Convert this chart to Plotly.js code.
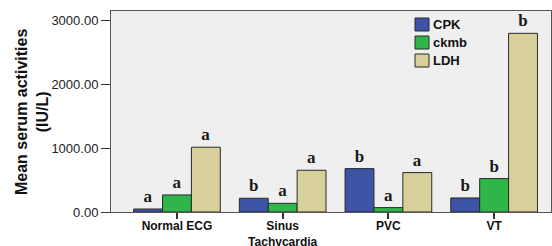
<!DOCTYPE html>
<html><head><meta charset="utf-8">
<script src="https://cdn.plot.ly/plotly-3.0.1.min.js"></script>
<style>html,body{margin:0;padding:0;background:#fff}#chart{width:552px;height:246px}</style>
</head><body><div id="chart"></div>
<script>
const categories = ["Normal ECG", "Sinus<br>Tachycardia", "PVC", "VT"];
const seriesNames = ["CPK", "ckmb", "LDH"];
const cpk = [47, 215, 680, 220];
const ckmb = [267, 136, 69, 524];
const ldh = [1015, 654, 618, 2800];
const cpkLetters = ["a", "b", "b", "b"];
const ckmbLetters = ["a", "a", "a", "b"];
const ldhLetters = ["a", "a", "a", "b"];
const yTickVals = [0, 1000, 2000, 3000];
const yTickText = ["0.00", "1000.00", "2000.00", "3000.00"];
const yTitle = "Mean serum activities<br>(IU/L)";
const colors = ["#3c53a6", "#30b54a", "#d8d09a"];

const xIdx = categories.map((c, i) => i);
const letterFont = {family: "Liberation Serif, Times New Roman, serif", size: 17, color: "#1a1a1a", weight: "bold"};
function mk(name, vals, letters, color) {
  return {
    type: "bar", name: name, x: xIdx, y: vals, text: letters,
    textposition: "outside", cliponaxis: false, constraintext: "none",
    outsidetextfont: letterFont, textfont: letterFont,
    marker: {color: color, line: {color: "#2a2a2a", width: 1}},
    hoverinfo: "skip", showlegend: false
  };
}
const data = [
  mk(seriesNames[0], cpk, cpkLetters, colors[0]),
  mk(seriesNames[1], ckmb, ckmbLetters, colors[1]),
  mk(seriesNames[2], ldh, ldhLetters, colors[2])
];

// custom legend + y title (paper coords)
const shapes = [], annotations = [];
const plotL = 111, plotT = 11, plotW = 440, plotH = 201;
function px2x(p) { return (p - plotL) / plotW; }
function py2y(p) { return (plotT + plotH - p) / plotH; }
seriesNames.forEach((n, i) => {
  const top = 18 + i * 18;
  shapes.push({type: "rect", xref: "paper", yref: "paper",
    x0: px2x(415), x1: px2x(429), y0: py2y(top + 13), y1: py2y(top),
    fillcolor: colors[i], line: {color: "#2a2a2a", width: 1}});
  annotations.push({xref: "paper", yref: "paper", x: px2x(431), y: py2y(top + 6.5),
    xanchor: "left", yanchor: "middle", showarrow: false, text: n,
    font: {family: "Liberation Sans, Arial, sans-serif", size: 13, color: "#111", weight: "bold"}});
});
annotations.push({xref: "paper", yref: "paper", x: px2x(32), y: py2y(112),
  xanchor: "center", yanchor: "middle", showarrow: false, textangle: -90,
  text: yTitle, font: {family: "Liberation Sans, Arial, sans-serif", size: 16, color: "#111", weight: "bold"}});

const layout = {
  width: 552, height: 246,
  margin: {l: 111, r: 1, t: 11, b: 34, pad: 0},
  paper_bgcolor: "#ffffff", plot_bgcolor: "#efefef",
  barmode: "group", bargap: 0.18, bargroupgap: 0,
  font: {family: "Liberation Sans, Arial, sans-serif", color: "#111"},
  xaxis: {
    tickvals: xIdx, ticktext: categories, range: [-0.624, 3.538],
    showgrid: false, zeroline: false, showline: true, mirror: true, linecolor: "#555", linewidth: 1,
    ticks: "outside", ticklen: 6, tickcolor: "#333", tickwidth: 2,
    ticklabelstandoff: -3,
    tickfont: {size: 12, color: "#111", weight: "bold"}, fixedrange: true
  },
  yaxis: {
    range: [0, 3150], tickvals: yTickVals, ticktext: yTickText,
    showgrid: false, zeroline: false, showline: true, mirror: true, linecolor: "#555", linewidth: 1,
    ticks: "outside", ticklen: 9, tickcolor: "#333", tickwidth: 1,
    tickfont: {size: 13, color: "#222"},
    fixedrange: true
  },
  shapes: shapes, annotations: annotations, showlegend: false
};
Plotly.newPlot("chart", data, layout, {displayModeBar: false, staticPlot: true});
</script></body></html>
